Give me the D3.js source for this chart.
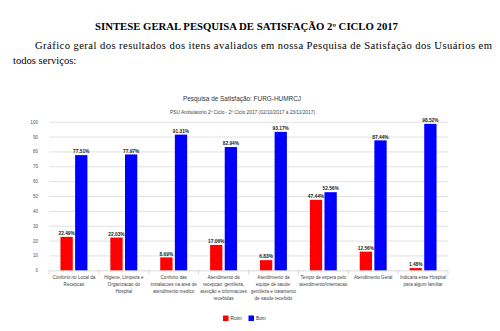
<!DOCTYPE html>
<html><head><meta charset="utf-8">
<script src="https://cdn.jsdelivr.net/npm/d3@7"></script>
<style>html,body{margin:0;padding:0;background:#fff;}svg{display:block;}</style>
</head><body>
<script>
const categories = [
  ["Conforto no Local da", "Recepcao"],
  ["Higiene, Limpeza e", "Organizacao do", "Hospital"],
  ["Conforto das", "instalacoes na area de", "atendimento medico"],
  ["Atendimento da", "recepcao: gentileza,", "atenção e informacoes", "recebidas"],
  ["Atendimento da", "equipe de saude:", "gentileza e tratamento", "de saude recebido"],
  ["Tempo de espera pelo", "atendimento/internacao"],
  ["Atendimento Geral"],
  ["Indicaria esse Hospital", "para algum familiar"]
];
const seriesNames = ["Ruim", "Bom"];
const ruim = [22.49, 22.03, 8.69, 17.06, 6.83, 47.44, 12.56, 1.48];
const bom  = [77.51, 77.97, 91.31, 82.94, 93.17, 52.56, 87.44, 98.52];
const yTicks = [0, 10, 20, 30, 40, 50, 60, 70, 80, 90, 100];
const colors = ["#ff0000", "#0000ff"];

const W = 500, H = 331;
const svg = d3.select("body").append("svg").attr("width", W).attr("height", H);

// Page heading
svg.append("text").attr("x", 246.5).attr("y", 29.5).attr("text-anchor", "middle")
  .attr("font-family", "Liberation Serif, Times New Roman, serif").attr("font-weight", "bold")
  .attr("font-size", 9.6).attr("textLength", 303).attr("lengthAdjust", "spacingAndGlyphs")
  .text("SINTESE GERAL PESQUISA DE SATISFAÇÃO 2º CICLO 2017");
svg.append("text").attr("x", 35).attr("y", 48.5)
  .attr("font-family", "Liberation Serif, Times New Roman, serif").attr("font-size", 10.6)
  .attr("textLength", 457).attr("lengthAdjust", "spacing")
  .text("Gráfico geral dos resultados dos itens avaliados em nossa Pesquisa de Satisfação dos Usuários em");
svg.append("text").attr("x", 13).attr("y", 63.5)
  .attr("font-family", "Liberation Serif, Times New Roman, serif").attr("font-size", 10.6)
  .text("todos serviços:");

// Chart
const x0 = 49, x1 = 448, yTop = 121.7, yBot = 270.3;
const x = d3.scaleBand().domain(d3.range(categories.length)).range([x0, x1]).paddingInner(0.46).paddingOuter(0.23);
const xs = d3.scaleBand().domain(seriesNames).range([0, x.bandwidth()]).paddingInner(0.16);
const y = d3.scaleLinear().domain([0, 100]).range([yBot, yTop]);

const sans = "Liberation Sans Narrow, Liberation Sans, Arial, sans-serif";

svg.append("text").attr("x", 242).attr("y", 100.5).attr("text-anchor", "middle")
  .attr("font-family", sans).attr("font-size", 7.2).attr("fill", "#333")
  .attr("textLength", 118).attr("lengthAdjust", "spacingAndGlyphs")
  .text("Pesquisa de Satisfação: FURG-HUMRCJ");
svg.append("text").attr("x", 242.5).attr("y", 113.5).attr("text-anchor", "middle")
  .attr("font-family", sans).attr("font-size", 4.6).attr("fill", "#444")
  .attr("textLength", 145).attr("lengthAdjust", "spacingAndGlyphs")
  .text("PSU Ambulatorio 2º Ciclo - 2º Ciclo 2017 (02/10/2017 à 23/11/2017)");

// gridlines
const yAxis = d3.axisLeft(y).tickValues(yTicks).tickSize(-(x1 - x0)).tickPadding(11);
const gy = svg.append("g").attr("transform", `translate(${x0},0)`).call(yAxis);
gy.select(".domain").remove();
gy.selectAll(".tick line").attr("stroke", "#d9d9d9").attr("stroke-width", 0.8);
gy.selectAll(".tick line").filter(d => d === 0).attr("stroke", "#cfcfcf");
gy.selectAll(".tick text").attr("font-family", sans).attr("font-size", 4.6).attr("fill", "#555");

// x axis category ticks
const xAxisG = svg.append("g");
const bounds = d3.range(categories.length + 1).map(i => x0 + i * (x1 - x0) / categories.length);
xAxisG.selectAll("line").data(bounds).join("line")
  .attr("x1", d => d).attr("x2", d => d).attr("y1", yBot).attr("y2", yBot + 4)
  .attr("stroke", "#cfcfcf").attr("stroke-width", 0.8);

// bars
const data = [ruim, bom];
const groups = svg.append("g").selectAll("g").data(categories.map((c, i) => i)).join("g")
  .attr("transform", i => `translate(${x(i)},0)`);
groups.selectAll("rect").data(i => seriesNames.map((s, k) => ({s, k, v: data[k][i]}))).join("rect")
  .attr("x", d => xs(d.s)).attr("width", xs.bandwidth())
  .attr("y", d => y(d.v)).attr("height", d => y(0) - y(d.v))
  .attr("fill", d => colors[d.k]);
groups.selectAll("text.lbl").data(i => seriesNames.map((s, k) => ({s, k, v: data[k][i]}))).join("text")
  .attr("class", "lbl")
  .attr("x", d => xs(d.s) + xs.bandwidth() / 2).attr("y", d => y(d.v) - 1.8)
  .attr("text-anchor", "middle").attr("font-family", sans).attr("font-size", 4.8)
  .attr("font-weight", "bold").attr("fill", "#222")
  .text(d => d.v.toFixed(2) + "%");

// category labels
const cl = svg.append("g").selectAll("text").data(categories).join("text")
  .attr("x", (d, i) => x(i) + x.bandwidth() / 2)
  .attr("y", 279)
  .attr("text-anchor", "middle").attr("font-family", sans).attr("font-size", 4.6).attr("fill", "#444");
cl.selectAll("tspan").data(d => d).join("tspan")
  .attr("x", function() { return this.parentNode.getAttribute("x"); })
  .attr("dy", (d, j) => j === 0 ? 0 : 7)
  .text(d => d);

// legend
const leg = svg.append("g");
const legX = [223, 248.5];
seriesNames.forEach((s, k) => {
  leg.append("rect").attr("x", legX[k]).attr("y", 315.5).attr("width", 5.5).attr("height", 5.5).attr("fill", colors[k]);
  leg.append("text").attr("x", legX[k] + 7.5).attr("y", 320.3).attr("font-family", sans)
    .attr("font-size", 4.8).attr("fill", "#333").text(s);
});
</script>
</body></html>
